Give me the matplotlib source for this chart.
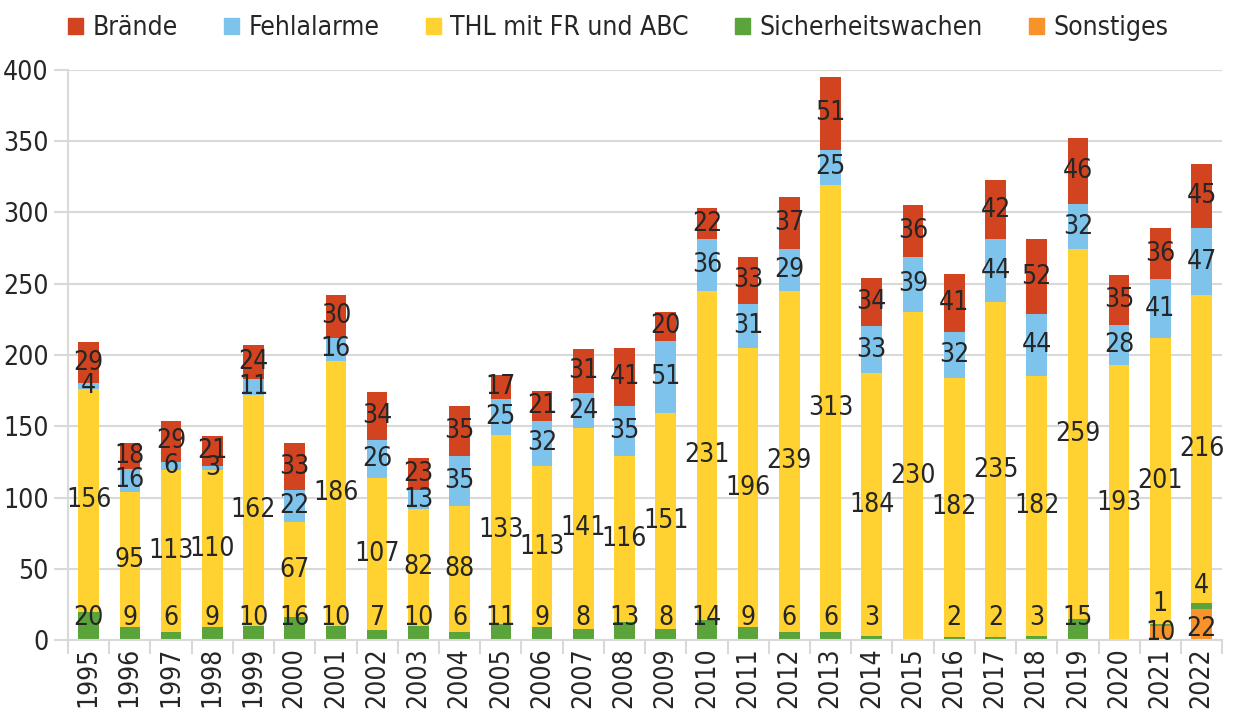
import numpy as np
import matplotlib
matplotlib.use('Agg')
import matplotlib.pyplot as plt
from matplotlib.patches import Patch

plt.rcParams['font.family'] = ['DejaVu Sans']
plt.rcParams['font.stretch'] = 'condensed'

years = [str(y) for y in range(1995, 2023)]
sonstiges = [0]*26 + [10, 22]
sicherheit = [20, 9, 6, 9, 10, 16, 10, 7, 10, 6, 11, 9, 8, 13, 8, 14, 9, 6, 6, 3, 0, 2, 2, 3, 15, 0, 1, 4]
thl = [156, 95, 113, 110, 162, 67, 186, 107, 82, 88, 133, 113, 141, 116, 151, 231, 196, 239, 313, 184,
       230, 182, 235, 182, 259, 193, 201, 216]
fehl = [4, 16, 6, 3, 11, 22, 16, 26, 13, 35, 25, 32, 24, 35, 51, 36, 31, 29, 25, 33, 39, 32, 44, 44, 32, 28, 41, 47]
braende = [29, 18, 29, 21, 24, 33, 30, 34, 23, 35, 17, 21, 31, 41, 20, 22, 33, 37, 51, 34, 36, 41, 42, 52, 46, 35, 36, 45]

series = [('Sonstiges', sonstiges, '#F7932A'),
          ('Sicherheitswachen', sicherheit, '#5BA33B'),
          ('THL mit FR und ABC', thl, '#FFD231'),
          ('Fehlalarme', fehl, '#7DC3EC'),
          ('Brände', braende, '#D24420')]

fig = plt.figure(figsize=(12.37, 7.12), dpi=100)
ax = fig.add_axes([0.055, 0.101, 0.933, 0.801])
x = np.arange(len(years))
bottom = np.zeros(len(years))
fs = 19
tc = '#262626'
for name, vals, col in series:
    vals = np.array(vals, dtype=float)
    ax.bar(x, vals, 0.5, bottom=bottom, color=col, zorder=2)
    for i, v in enumerate(vals):
        if v <= 0:
            continue
        if name == 'Sicherheitswachen':
            # "inside base" labels
            ax.annotate(str(int(v)), (x[i], bottom[i]), xytext=(0, 16), textcoords='offset points',
                        ha='center', va='center', fontsize=fs, color=tc, zorder=3)
        else:
            y = bottom[i] + v / 2
            if name == 'Sonstiges' and v > 15:
                y -= 3
            ax.text(x[i], y, str(int(v)), ha='center', va='center', fontsize=fs, color=tc, zorder=3)
    bottom += vals

ax.set_ylim(0, 400)
ax.set_xlim(-0.5, len(years) - 0.5)
ax.set_yticks(range(0, 401, 50))
ax.yaxis.grid(True, color='#D9D9D9', linewidth=1.5, zorder=0)
ax.set_xticks(x)
ax.set_xticklabels(years, rotation=90, fontsize=fs, color=tc)
ax.tick_params(axis='x', length=0, pad=5)
ax.set_xticks(np.arange(-0.5, len(years), 1), minor=True)
ax.tick_params(axis='x', which='minor', length=10, width=1.5, color='#D9D9D9')
ax.tick_params(axis='y', labelsize=fs, labelcolor=tc, length=10, width=1.5, color='#D9D9D9', pad=4)
for s in ['top', 'right']:
    ax.spines[s].set_visible(False)
for s in ['left', 'bottom']:
    ax.spines[s].set_color('#D9D9D9')
    ax.spines[s].set_linewidth(1.5)

handles = [Patch(color=c, label=n) for n, v, c in series[::-1]]
fig.legend(handles=handles, loc='upper center', bbox_to_anchor=(0.5, 1.012), ncol=5, frameon=False,
           fontsize=fs, handlelength=0.57, handleheight=0.57, columnspacing=1.75, handletextpad=0.36,
           labelcolor=tc)

fig.savefig('out.png', dpi=100)
